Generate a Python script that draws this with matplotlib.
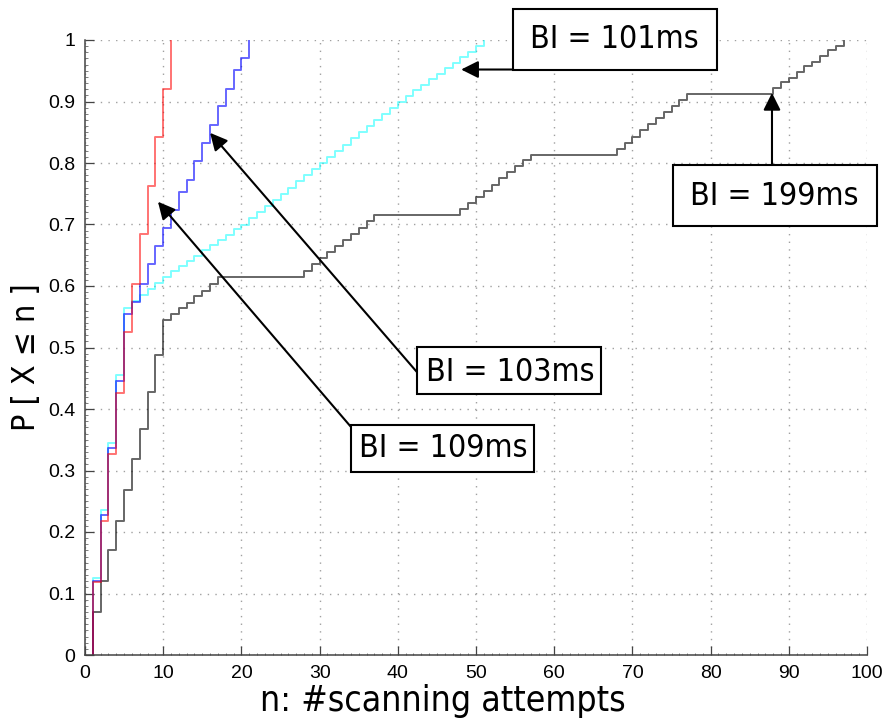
import numpy as np
import matplotlib.pyplot as plt
from matplotlib.patches import Rectangle
from matplotlib.ticker import MultipleLocator

# empirical CDFs, step positions (n) and levels P[X<=n]
red_n = list(range(1, 12))
red_p = [0.119, 0.218, 0.327, 0.426, 0.525, 0.604, 0.684, 0.763, 0.842, 0.921, 1.0]

blue_n = list(range(1, 22))
blue_p = [0.12, 0.228, 0.337, 0.445, 0.555, 0.574, 0.604, 0.635, 0.665, 0.694,
          0.724, 0.753, 0.773, 0.803, 0.833, 0.862, 0.892, 0.921, 0.951, 0.971, 1.0]

cyan_n = list(range(1, 52))
cyan_p = [0.125, 0.235, 0.345, 0.455, 0.565, 0.575, 0.585, 0.595, 0.605, 0.615,
          0.624, 0.632, 0.641, 0.649, 0.658, 0.666, 0.675, 0.683, 0.692, 0.700,
          0.71, 0.72, 0.73, 0.74, 0.75, 0.76, 0.77, 0.78, 0.79, 0.80,
          0.81, 0.82, 0.83, 0.84, 0.85, 0.86, 0.87, 0.88, 0.89, 0.90,
          0.909, 0.918, 0.927, 0.936, 0.945, 0.954, 0.963, 0.972, 0.981, 0.99, 1.0]

grey_n = list(range(1, 18)) + list(range(28, 38)) + list(range(48, 58)) + list(range(68, 78)) + list(range(88, 98))
grey_p = [0.07, 0.12, 0.17, 0.218, 0.268, 0.318, 0.367, 0.427, 0.487, 0.545,
          0.555, 0.564, 0.573, 0.583, 0.592, 0.604, 0.615,
          0.625, 0.635, 0.645, 0.655, 0.665, 0.675, 0.685, 0.695, 0.705, 0.715,
          0.725, 0.735, 0.745, 0.755, 0.765, 0.775, 0.785, 0.795, 0.805, 0.813,
          0.823, 0.833, 0.843, 0.853, 0.863, 0.873, 0.883, 0.893, 0.903, 0.913,
          0.922, 0.931, 0.939, 0.948, 0.957, 0.965, 0.974, 0.983, 0.991, 1.0]

# annotations
labels = ["BI = 101ms", "BI = 199ms", "BI = 103ms", "BI = 109ms"]
text_xy = [(67.7, 1.0), (88.2, 0.746), (54.35, 0.46), (45.8, 0.3355)]
box_x = [(54.7, 80.8), (75.2, 101.3), (42.5, 66.0), (34.0, 57.4)]
box_y = [(0.951, 1.050), (0.698, 0.797), (0.424, 0.501), (0.298, 0.374)]
arrow_from = [(54.7, 0.952), (87.85, 0.797), (42.45, 0.46), (34.0, 0.371)]
arrow_to = [(48.1, 0.952), (87.85, 0.914), (16.0, 0.849), (9.33, 0.737)]

fig = plt.figure(figsize=(8.92, 7.2), dpi=100)
ax = fig.add_axes([85/892, 65/720, 782/892, 615/720])

def cdf(n, p, c, a):
    ax.step(np.r_[n[0], n], np.r_[0, p], where="post", color=c, alpha=a, lw=1.4)

cdf(cyan_n, cyan_p, "#00ffff", 0.5)
cdf(grey_n, grey_p, "#000000", 0.6)
cdf(blue_n, blue_p, "#0000ff", 0.6)
cdf(red_n, red_p, "#ff0000", 0.55)

ax.set_xlim(0, 100)
ax.set_ylim(0, 1)
ax.xaxis.set_major_locator(MultipleLocator(10))
ax.xaxis.set_minor_locator(MultipleLocator(1))
ax.yaxis.set_minor_locator(MultipleLocator(0.01))
ax.set_yticks(np.arange(0, 1.01, 0.1))
ax.set_yticklabels(["0", "0.1", "0.2", "0.3", "0.4", "0.5", "0.6", "0.7", "0.8", "0.9", "1"])
ax.grid(True, which="major", color="#a0a0a0", lw=1.0, linestyle=(0, (1, 4.5)))
for s in ["top", "right"]:
    ax.spines[s].set_visible(False)
for s in ["left", "bottom"]:
    ax.spines[s].set_color("#444444")
    ax.spines[s].set_linewidth(1.1)
ax.tick_params(which="major", direction="in", length=6.5, width=0.9, color="#444444",
               labelsize=14, pad=7)
ax.tick_params(which="minor", direction="in", length=1.8, width=0.6, color="#666666")
for lb in ax.get_xticklabels() + ax.get_yticklabels():
    lb.set_fontfamily("Liberation Sans")

ax.set_xlabel("n: #scanning attempts", fontsize=25.5, fontstretch="condensed", labelpad=2, x=0.458)
ax.set_ylabel("P [ X \u2264 n ]", fontsize=23, fontstretch="condensed", labelpad=4, y=0.485)

for lab, txy, bx, by, a0, a1 in zip(labels, text_xy, box_x, box_y, arrow_from, arrow_to):
    ax.add_patch(Rectangle((bx[0], by[0]), bx[1]-bx[0], by[1]-by[0], fill=True, fc="white",
                           ec="black", lw=1.5, clip_on=False, zorder=5))
    ax.text(txy[0], txy[1], lab, ha="center", va="center", fontsize=23,
            fontstretch="condensed", zorder=6, clip_on=False)
    ax.annotate("", xy=a1, xytext=a0, annotation_clip=False, zorder=7,
                arrowprops=dict(arrowstyle="-|>,head_length=0.4,head_width=0.2",
                                mutation_scale=26, lw=1.5, color="black",
                                shrinkA=0, shrinkB=0))

fig.savefig("out.png", dpi=100)
